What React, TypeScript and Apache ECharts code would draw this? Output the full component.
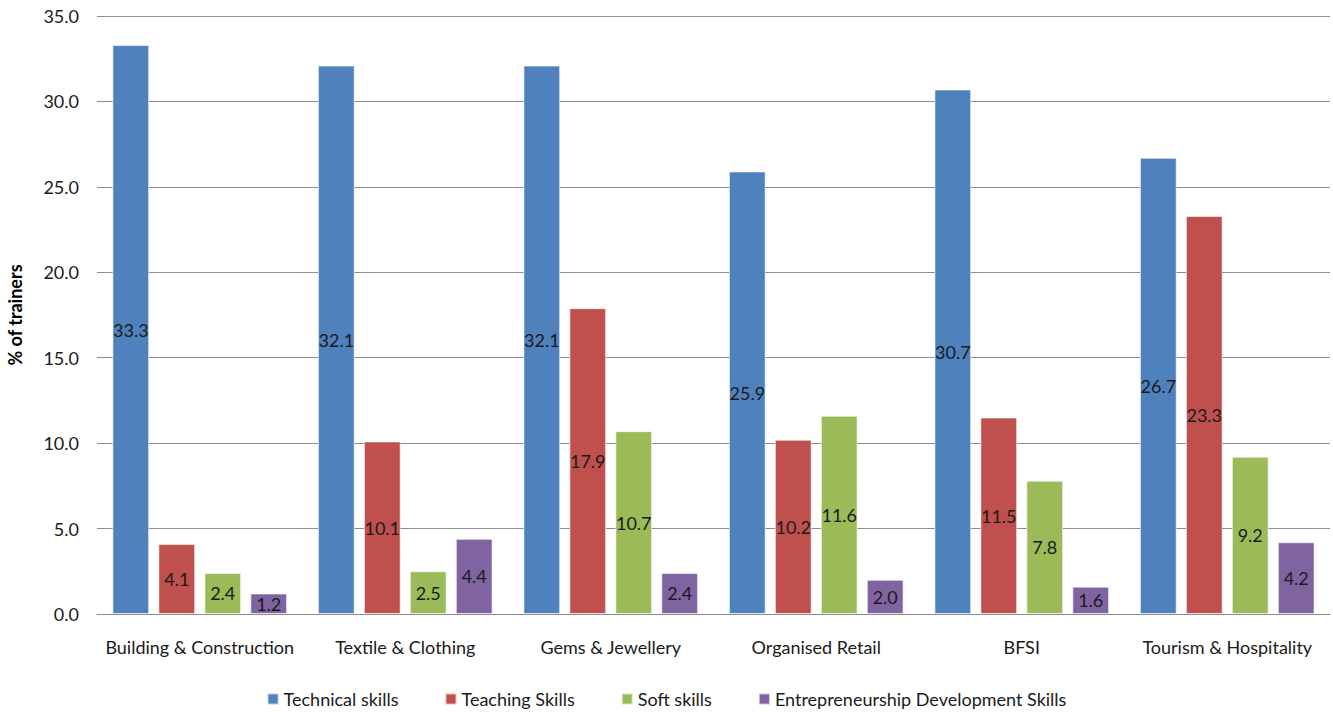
import React, { useEffect, useRef } from "react";
import * as echarts from "echarts";

const categories = [
  "Building & Construction",
  "Textile & Clothing",
  "Gems & Jewellery",
  "Organised Retail",
  "BFSI",
  "Tourism & Hospitality",
];
const technical = [33.3, 32.1, 32.1, 25.9, 30.7, 26.7];
const teaching = [4.1, 10.1, 17.9, 10.2, 11.5, 23.3];
const soft = [2.4, 2.5, 10.7, 11.6, 7.8, 9.2];
const entrepreneurship = [1.2, 4.4, 2.4, 2.0, 1.6, 4.2];
const seriesNames = [
  "Technical skills",
  "Teaching Skills",
  "Soft skills",
  "Entrepreneurship Development Skills",
];
const colors = ["#4F81BD", "#C0504D", "#9BBB59", "#8064A2"];
const FONT = "Lato, 'Noto Sans', sans-serif";

export default function App() {
  const ref = useRef<HTMLDivElement>(null);
  useEffect(() => {
    if (!ref.current) return;
    const chart = echarts.init(ref.current, null, { renderer: "svg" });
    const data = [technical, teaching, soft, entrepreneurship];
    chart.setOption({
      animation: false,
      textStyle: { fontFamily: FONT },
      grid: {
        left: 97,
        right: 3,
        top: 16,
        bottom: 99,
        containLabel: false,
        outerBoundsMode: "none",
      },
      legend: {
        bottom: 0,
        left: "center",
        itemWidth: 11,
        itemHeight: 11,
        itemGap: 46,
        icon: "rect",
        textStyle: { fontSize: 18, color: "#1a1a1a", fontFamily: FONT },
        data: seriesNames,
      },
      xAxis: {
        type: "category",
        data: categories,
        axisLine: { lineStyle: { color: "#8c8c8c" } },
        axisTick: { show: false },
        axisLabel: { fontSize: 18, color: "#1a1a1a", margin: 24, interval: 0 },
      },
      yAxis: {
        type: "value",
        min: 0,
        max: 35,
        interval: 5,
        name: "% of trainers",
        nameLocation: "middle",
        nameGap: 73,
        nameTextStyle: { fontSize: 18, fontWeight: "bold", color: "#000" },
        axisLine: { show: false },
        axisTick: { show: false },
        axisLabel: {
          fontSize: 18,
          color: "#1a1a1a",
          margin: 18,
          formatter: (v: number) => v.toFixed(1),
        },
        splitLine: { lineStyle: { color: "#8c8c8c" } },
      },
      series: seriesNames.map((name, i) => ({
        name,
        type: "bar",
        data: data[i],
        barGap: "25%",
        barCategoryGap: "15%",
        itemStyle: {
          color: colors[i],
          borderColor: "rgba(255,255,255,0.6)",
          borderWidth: 1,
        },
        label: {
          show: true,
          position: "inside",
          fontSize: 18,
          color: "#1a1a1a",
          formatter: (p: any) => Number(p.value).toFixed(1),
        },
      })),
    });
    return () => chart.dispose();
  }, []);
  return (
    <div
      ref={ref}
      style={{ position: "fixed", left: 0, top: 0, width: 1333, height: 713, background: "#fff" }}
    />
  );
}
